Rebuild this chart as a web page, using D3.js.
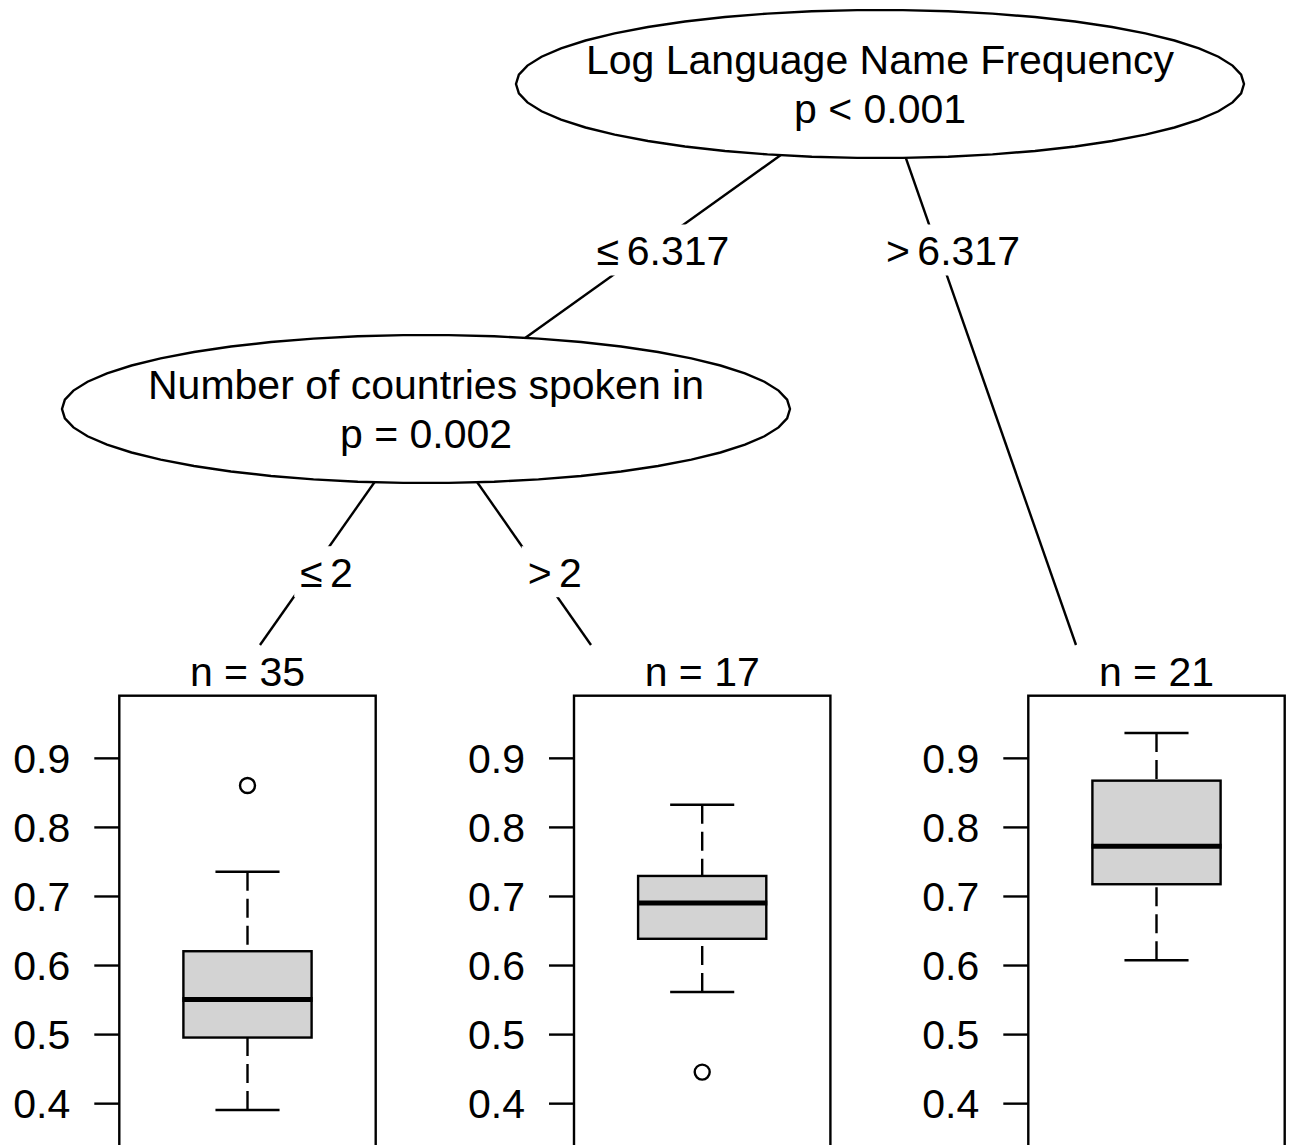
<!DOCTYPE html>
<html>
<head>
<meta charset="utf-8">
<script src="https://d3js.org/d3.v7.min.js"></script>
<style>
  body { margin: 0; background: #fff; }
  svg { display: block; }
  text { font-family: "Liberation Sans", Arial, Helvetica, sans-serif; fill: #000; }
</style>
</head>
<body>
<div id="chart-area"></div>
<script>
// data
var splitVars   = ["Log Language Name Frequency", "Number of countries spoken in"];
var pValues     = ["p < 0.001", "p = 0.002"];
var splitLabels = [["\u2264 6.317", "> 6.317"], ["\u2264 2", "> 2"]];

var leafN        = [35, 17, 21];
var whiskerLow   = [0.390, 0.561, 0.607];
var q1           = [0.495, 0.638, 0.717];
var median       = [0.550, 0.690, 0.772];
var q3           = [0.620, 0.729, 0.867];
var whiskerHigh  = [0.735, 0.832, 0.936];
var outliers     = [[0.860], [0.445], []];
var yTicks       = [0.4, 0.5, 0.6, 0.7, 0.8, 0.9];

// layout
var width = 1291, height = 1145;
var fontSize = 41;
var lw = 2.4;
var rx = 364, ry = 74;
var panelTop = 695.7, panelW = 256.4;
var panelLeft = [119.3, 574, 1028.3];

// tree nodes (inner nodes: ellipse centre, leaves: where the edge stops)
var inner = [
    {id: 1, x: 880, y: 84},
    {id: 2, x: 426, y: 409}
];
var leaves = [
    {x: 260, y: 645},
    {x: 591, y: 645},
    {x: 1076, y: 645}
];
// edges: parent -> child, depth, label
var edges = [
    {from: inner[0], to: inner[1],  depth: 0, label: splitLabels[0][0]},
    {from: inner[0], to: leaves[2], depth: 0, label: splitLabels[0][1]},
    {from: inner[1], to: leaves[0], depth: 1, label: splitLabels[1][0]},
    {from: inner[1], to: leaves[1], depth: 1, label: splitLabels[1][1]}
];
var labelY = [250, 571.7];

var svg = d3.select("#chart-area")
    .append("svg")
        .attr("width", width)
        .attr("height", height);

var y = d3.scaleLinear()
    .domain([0.33, 0.99])
    .range([panelTop + 0.66 * 690.6, panelTop]);

// edges
svg.selectAll("line.edge").data(edges).enter()
    .append("line")
        .attr("class", "edge")
        .attr("x1", function(d){ return d.from.x; })
        .attr("y1", function(d){ return d.from.y; })
        .attr("x2", function(d){ return d.to.x; })
        .attr("y2", function(d){ return d.to.y; })
        .attr("stroke", "#000")
        .attr("stroke-width", lw);

// edge labels with white boxes
var lab = svg.selectAll("g.elab").data(edges).enter()
    .append("g")
        .attr("class", "elab")
        .attr("transform", function(d){
            var ly = labelY[d.depth];
            var t = (ly - d.from.y) / (d.to.y - d.from.y);
            var lx = d.from.x + t * (d.to.x - d.from.x) + 15;
            return "translate(" + lx + "," + ly + ")";
        });
lab.append("rect").attr("fill", "#fff");
lab.append("text")
    .attr("text-anchor", "middle")
    .attr("y", 15)
    .attr("font-size", fontSize + "px")
    .attr("word-spacing", "-4px")
    .text(function(d){ return d.label; });
lab.each(function(){
    var g = d3.select(this);
    var bb = g.select("text").node().getBBox();
    g.select("rect")
        .attr("x", bb.x - 6)
        .attr("width", bb.width + 12)
        .attr("y", -25.5)
        .attr("height", 51);
});

// inner node ellipses (polygon like partykit)
var ellPts = d3.range(0, 50).map(function(i){
    var a = i / 50 * 2 * Math.PI;
    return [rx * Math.cos(a), ry * Math.sin(a)];
});
var nodes = svg.selectAll("g.inner").data(inner).enter()
    .append("g")
        .attr("class", "inner")
        .attr("transform", function(d){ return "translate(" + d.x + "," + d.y + ")"; });
nodes.append("path")
    .attr("d", d3.line()(ellPts) + "Z")
    .attr("fill", "#fff")
    .attr("stroke", "#000")
    .attr("stroke-width", lw);
nodes.append("text")
    .attr("text-anchor", "middle")
    .attr("y", -10)
    .attr("font-size", fontSize + "px")
    .text(function(d, i){ return splitVars[i]; });
nodes.append("text")
    .attr("text-anchor", "middle")
    .attr("y", 38.5)
    .attr("font-size", fontSize + "px")
    .text(function(d, i){ return pValues[i]; });

// terminal panels
var yAxisCall = d3.axisLeft(y)
    .tickValues(yTicks)
    .tickSize(25)
    .tickPadding(24)
    .tickFormat(d3.format(".1f"));

leafN.forEach(function(n, i){
    var left = panelLeft[i];
    var cx = left + panelW / 2;
    var g = svg.append("g").attr("class", "leaf");

    g.append("text")
        .attr("x", cx)
        .attr("y", 686)
        .attr("text-anchor", "middle")
        .attr("font-size", fontSize + "px")
        .text("n = " + n);

    g.append("rect")
        .attr("x", left)
        .attr("y", panelTop)
        .attr("width", panelW)
        .attr("height", y(0.33) - panelTop + 10)
        .attr("fill", "none")
        .attr("stroke", "#000")
        .attr("stroke-width", lw);

    var ax = g.append("g")
        .attr("transform", "translate(" + left + ",0)")
        .call(yAxisCall);
    ax.select(".domain").remove();
    ax.selectAll(".tick line").attr("stroke", "#000").attr("stroke-width", lw);
    ax.selectAll(".tick text")
        .attr("font-size", fontSize + "px")
        .attr("font-family", "'Liberation Sans', Arial, sans-serif")
        .attr("dy", "0.36em");

    var bw = panelW / 2, cw = panelW / 4;

    // whiskers
    [[whiskerHigh[i], q3[i]], [whiskerLow[i], q1[i]]].forEach(function(w){
        g.append("line")
            .attr("x1", cx).attr("x2", cx)
            .attr("y1", y(w[0])).attr("y2", y(w[1]))
            .attr("stroke", "#000")
            .attr("stroke-width", lw)
            .attr("stroke-dasharray", "19,8");
        g.append("line")
            .attr("x1", cx - cw / 2).attr("x2", cx + cw / 2)
            .attr("y1", y(w[0])).attr("y2", y(w[0]))
            .attr("stroke", "#000")
            .attr("stroke-width", lw);
    });

    // box
    g.append("rect")
        .attr("x", cx - bw / 2)
        .attr("y", y(q3[i]))
        .attr("width", bw)
        .attr("height", y(q1[i]) - y(q3[i]))
        .attr("fill", "#d3d3d3")
        .attr("stroke", "#000")
        .attr("stroke-width", lw);
    g.append("line")
        .attr("x1", cx - bw / 2 - 1).attr("x2", cx + bw / 2 + 1)
        .attr("y1", y(median[i])).attr("y2", y(median[i]))
        .attr("stroke", "#000")
        .attr("stroke-width", 5);

    // outliers
    g.selectAll("circle").data(outliers[i]).enter()
        .append("circle")
            .attr("cx", cx)
            .attr("cy", function(d){ return y(d); })
            .attr("r", 7.5)
            .attr("fill", "none")
            .attr("stroke", "#000")
            .attr("stroke-width", lw);
});
</script>
</body>
</html>
